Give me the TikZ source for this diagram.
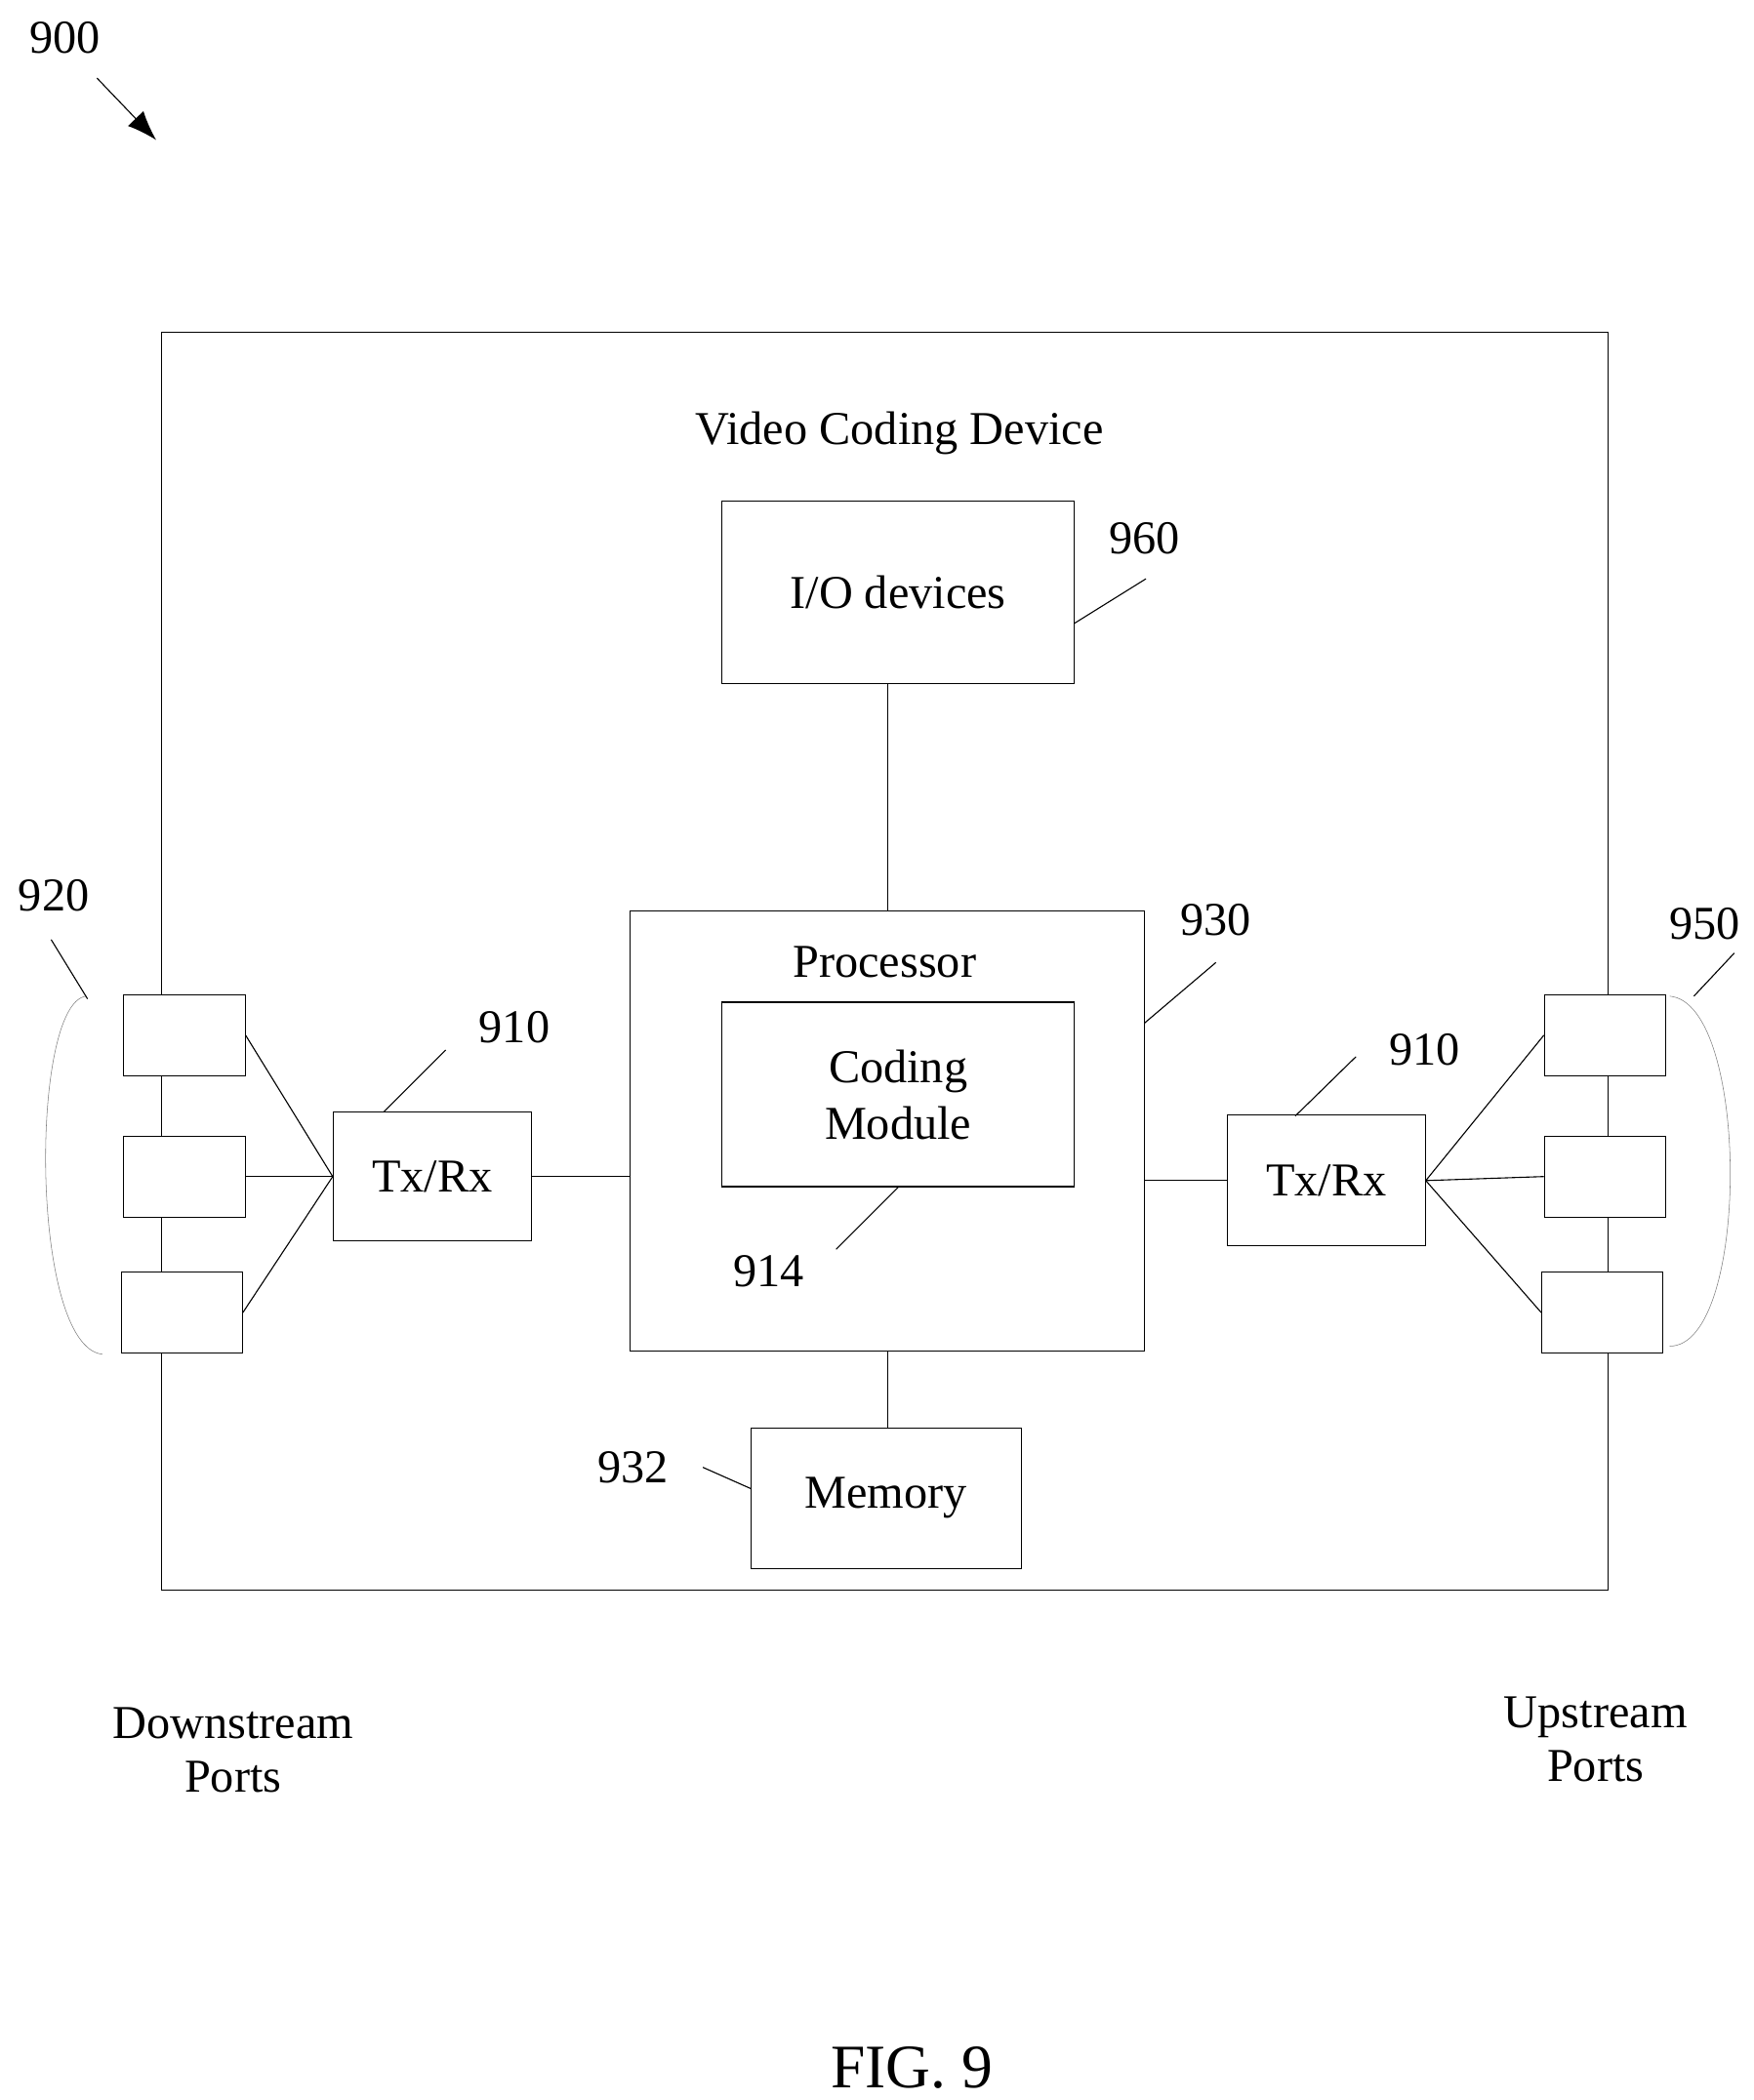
\documentclass[tikz,border=0pt]{standalone}
\usepackage{fontspec}
\setmainfont{Liberation Serif}
\usetikzlibrary{positioning,arrows.meta}
\begin{document}
\begin{tikzpicture}[x=1pt,y=-1pt,
	box/.style={draw, thick, fill=white, inner sep=0pt},
	port/.style={box, minimum width=90pt, minimum height=60pt},
	lbl/.style={font=\fontsize{35}{42}\selectfont, inner sep=0pt},
	lead/.style={thick},
	]
	\useasboundingbox (0,0) rectangle (1302,1560);
	%Device
	\node[box, fill=none, minimum width=1074pt, minimum height=934pt] (dev) at (657,714) {};
	\node[lbl] (title) at (668,322) {Video Coding Device};
	%Inner blocks
	\node[box, minimum width=262pt, minimum height=136pt, lbl] (io) at (667,440) {I/O devices};
	\node[box, minimum width=382pt, minimum height=327pt] (proc) at (659,840) {};
	\node[lbl] (ptext) at (657,715) {Processor};
	\node[box, minimum width=262pt, minimum height=137pt, lbl, align=center] (cm) at (667,813) {Coding\\Module};
	\node[box, minimum width=201pt, minimum height=104pt, lbl] (mem) at (658,1113) {Memory};
	\node[box, minimum width=147pt, minimum height=96pt, lbl] (txl) at (321,874) {Tx/Rx};
	\node[box, minimum width=147pt, minimum height=97pt, lbl] (txr) at (985,877) {Tx/Rx};
	%Ports
	\node[port] (dp1) at (137,769) {};
	\node[port] (dp2) at (137,874) {};
	\node[port] (dp3) at (135,975) {};
	\node[port] (up1) at (1192,769) {};
	\node[port] (up2) at (1192,874) {};
	\node[port] (up3) at (1190,975) {};
	%Lines
	\draw[thick] (io.south -| proc.north) -- (proc.north);
	\draw[thick] (proc.south) -- (proc.south |- mem.north);
	\draw[thick] (txl.east) -- (txl.east -| proc.west);
	\draw[thick] (txr.west -| proc.east) -- (txr.west);
	\foreach \p in {dp1,dp2,dp3} \draw[thick] (\p.east) -- (txl.west);
	\foreach \p in {up1,up2,up3} \draw[thick] (\p.west) -- (txr.east);
	%Brackets
	\draw[thin, gray] (64,740) .. controls (22,745) and (22,1000) .. (76,1006);
	\draw[thin, gray] (1240,740) .. controls (1300,745) and (1300,1000) .. (1240,1000);
	%Reference numbers
	\node[lbl] (n900) at (48,28) {900};
	\coordinate (a900) at (116,104);
	\draw[-{Latex[length=22pt,width=16pt]}, thick] (72,58) -- (a900);
	\node[lbl] (n960) at (850,400) {960};
	\draw[lead] (798,463) -- (851,430);
	\node[lbl] (n930) at (903,683) {930};
	\draw[lead] (850,760) -- (903,715);
	\node[lbl] (n914) at (571,944) {914};
	\draw[lead] (667,882) -- (621,928);
	\node[lbl] (n932) at (470,1090) {932};
	\draw[lead] (522,1090) -- (558,1106);
	\node[lbl] (n910l) at (382,763) {910};
	\draw[lead] (285,826) -- (331,780);
	\node[lbl] (n910r) at (1058,780) {910};
	\draw[lead] (962,829) -- (1007,785);
	\node[lbl] (n920) at (40,665) {920};
	\draw[lead] (38,698) -- (65,742);
	\node[lbl] (n950) at (1266,686) {950};
	\draw[lead] (1258,740) -- (1288,708);
	%Captions
	\node[lbl, align=center] (down) at (173,1300) {Downstream\\[-2pt]Ports};
	\node[lbl, align=center] (up) at (1185,1292) {Upstream\\[-2pt]Ports};
	\node[lbl, font=\fontsize{46}{52}\selectfont] (fig) at (677,1536) {FIG. 9};
\end{tikzpicture}
\end{document}
